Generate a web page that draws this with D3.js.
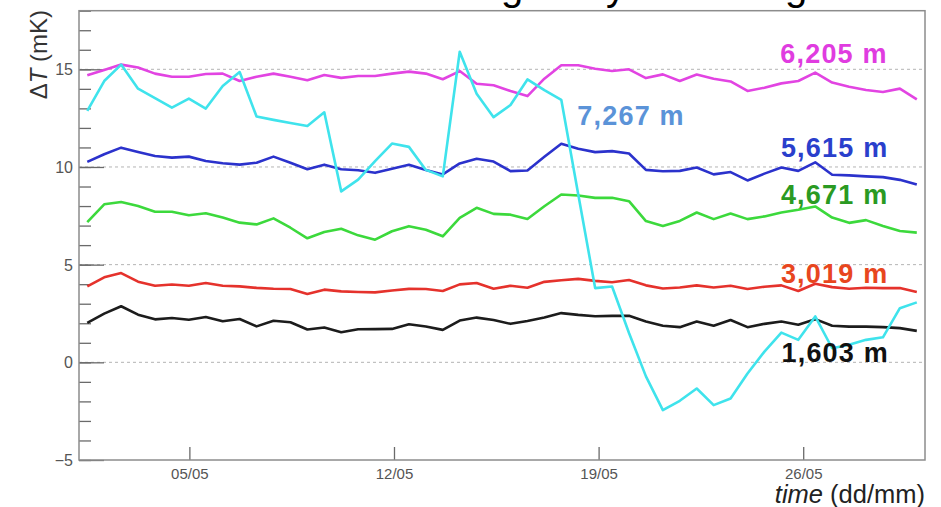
<!DOCTYPE html>
<html>
<head>
<meta charset="utf-8">
<script src="https://cdn.jsdelivr.net/npm/d3@7"></script>
<style>
  body { margin: 0; background: #fff; }
  svg { display: block; font-family: "Liberation Sans", Arial, Helvetica, sans-serif; }
</style>
</head>
<body>
<svg id="chart" width="941" height="507"></svg>
<script>
// ΔT per sensor depth, one reading every ~13.9 h from 1 May to 29 May
const depth1603 = [2.02, 2.49, 2.87, 2.44, 2.20, 2.27, 2.18, 2.32, 2.10, 2.22,
                   1.84, 2.13, 2.05, 1.68, 1.78, 1.54, 1.69, 1.70, 1.71, 1.95,
                   1.83, 1.66, 2.14, 2.29, 2.17, 1.97, 2.12, 2.29, 2.52, 2.43,
                   2.36, 2.38, 2.38, 2.09, 1.87, 1.80, 2.09, 1.87, 2.17, 1.80,
                   1.97, 2.09, 1.92, 2.21, 1.87, 1.83, 1.83, 1.80, 1.75, 1.61];
const depth3019 = [3.89, 4.35, 4.57, 4.13, 3.92, 3.98, 3.92, 4.06, 3.92, 3.89,
                   3.81, 3.77, 3.75, 3.50, 3.72, 3.63, 3.60, 3.58, 3.68, 3.76,
                   3.75, 3.65, 3.99, 4.06, 3.77, 3.92, 3.82, 4.12, 4.20, 4.27,
                   4.17, 4.10, 4.21, 3.94, 3.78, 3.83, 3.94, 3.83, 3.92, 3.75,
                   3.87, 3.94, 3.65, 4.02, 3.85, 3.77, 3.82, 3.80, 3.80, 3.60];
const depth4671 = [7.18, 8.09, 8.21, 8.00, 7.71, 7.71, 7.53, 7.63, 7.41, 7.15,
                   7.06, 7.37, 6.89, 6.35, 6.67, 6.84, 6.50, 6.28, 6.71, 6.97,
                   6.79, 6.45, 7.39, 7.91, 7.60, 7.56, 7.34, 7.99, 8.59, 8.54,
                   8.42, 8.42, 8.25, 7.23, 6.98, 7.24, 7.67, 7.33, 7.62, 7.33,
                   7.47, 7.67, 7.81, 7.98, 7.41, 7.14, 7.28, 6.98, 6.72, 6.64];
const depth5615 = [10.26, 10.65, 10.99, 10.77, 10.56, 10.48, 10.53, 10.31, 10.19, 10.12,
                   10.22, 10.53, 10.22, 9.88, 10.12, 9.88, 9.83, 9.70, 9.91, 10.11,
                   9.84, 9.62, 10.18, 10.42, 10.28, 9.79, 9.82, 10.52, 11.19, 10.93,
                   10.76, 10.81, 10.69, 9.85, 9.78, 9.80, 9.97, 9.62, 9.74, 9.31,
                   9.66, 9.97, 9.80, 10.24, 9.60, 9.57, 9.52, 9.48, 9.34, 9.10];
const depth6205 = [14.69, 14.97, 15.24, 15.09, 14.78, 14.62, 14.62, 14.76, 14.78, 14.40,
                   14.62, 14.78, 14.62, 14.44, 14.71, 14.56, 14.66, 14.66, 14.78, 14.88,
                   14.78, 14.49, 14.91, 14.26, 14.18, 13.89, 13.63, 14.52, 15.21, 15.21,
                   15.03, 14.91, 15.00, 14.55, 14.74, 14.40, 14.73, 14.52, 14.38, 13.89,
                   14.06, 14.28, 14.40, 14.83, 14.32, 14.11, 13.94, 13.84, 14.01, 13.46];
const depth7267 = [12.87, 14.40, 15.24, 14.01, 13.53, 13.04, 13.50, 12.99, 14.15, 14.86,
                   12.58, 12.41, 12.25, 12.10, 12.80, 8.75, 9.35, 10.30, 11.20, 11.03,
                   9.85, 9.52, 15.90, 13.75, 12.55, 13.17, 14.48, 13.93, 13.44, 8.60,
                   3.80, 3.88, 1.50, -0.72, -2.45, -1.97, -1.34, -2.19, -1.85, -0.57,
                   0.55, 1.52, 1.15, 2.35, 0.72, 0.90, 1.15, 1.28, 2.77, 3.07];

const seriesLabels = ["1,603 m", "3,019 m", "4,671 m", "5,615 m", "6,205 m", "7,267 m"];
const seriesValues = [depth1603, depth3019, depth4671, depth5615, depth6205, depth7267];
const lineColors   = ["#1c1c1c", "#e5322c", "#3cd93c", "#2b32cc", "#e244e2", "#3fe3ec"];
const labelColors  = ["#111111", "#e8461e", "#2a9a22", "#2a3fcc", "#e03ce0", "#5b93d8"];
// where each depth label sits, in (time, ΔT) coordinates
const labelTimes   = ["2015-05-25T06:10Z", "2015-05-25T05:40Z", "2015-05-25T05:40Z",
                      "2015-05-25T05:40Z", "2015-05-25T05:10Z", "2015-05-18T06:30Z"];
const labelValues  = [0.03, 4.05, 8.11, 10.53, 15.32, 12.16];

const sampleStart = Date.parse("2015-05-01T12:10:00Z");
const sampleStepHours = 13.9;

const xTickTimes = ["2015-05-05T00:00Z", "2015-05-12T00:00Z", "2015-05-19T00:00Z", "2015-05-26T00:00Z"];
const yMajorTicks = [-5, 0, 5, 10, 15];
const yMinorTicks = d3.range(-5, 19, 1);

const svg = d3.select("#chart");
const plotLeft = 79, plotRight = 925, plotTop = 10.7, plotBottom = 460;

const x = d3.scaleUtc()
  .domain([new Date("2015-05-01T05:22:00Z"), new Date("2015-05-30T04:00:00Z")])
  .range([plotLeft, plotRight]);
const y = d3.scaleLinear().domain([-5, 18]).range([plotBottom, plotTop]);

const sampleTimes = depth1603.map((_, i) => new Date(sampleStart + i * sampleStepHours * 3600e3));

// slide title above the plot; only its descenders reach into the page
const title = svg.append("text")
  .attr("x", 0).attr("y", 0)
  .attr("font-size", 40)
  .attr("fill", "#000");
const titleParts = ["Thermal drift during ", "daily ", "warming"];
const titleSpans = titleParts.map(t => title.append("tspan").text(t));
{
  const node = title.node();
  const full = titleParts.join("");
  const g1 = full.indexOf("g");
  title.attr("x", 501 - node.getStartPositionOfChar(g1).x);
  const yIdx = full.indexOf("y");
  titleSpans[1].attr("dx", 606 - node.getStartPositionOfChar(yIdx).x);
  const g2 = full.lastIndexOf("g");
  titleSpans[2].attr("dx", 785 - node.getStartPositionOfChar(g2).x);
}

// dashed grid at the labelled values
svg.append("g").selectAll("line")
  .data(yMajorTicks.filter(v => v > -5))
  .join("line")
  .attr("x1", plotLeft).attr("x2", plotRight)
  .attr("y1", d => y(d)).attr("y2", d => y(d))
  .attr("stroke", "#b4b4b4").attr("stroke-width", 1)
  .attr("stroke-dasharray", "3,3");

// y axis: major + minor ticks pointing into the frame
const yAxisMinor = d3.axisRight(y).tickValues(yMinorTicks).tickSize(12).tickFormat("");
const yAxisMajor = d3.axisRight(y).tickValues(yMajorTicks).tickSize(25)
  .tickFormat(d => d < 0 ? "\u2212" + Math.abs(d) : d);

const gyMinor = svg.append("g").attr("transform", `translate(${plotLeft},0)`).call(yAxisMinor);
gyMinor.select(".domain").remove();
gyMinor.selectAll("line").attr("stroke", "#6a6a6a").attr("stroke-width", 1.3);

const gyMajor = svg.append("g").attr("transform", `translate(${plotLeft},0)`).call(yAxisMajor);
gyMajor.select(".domain").remove();
gyMajor.selectAll("line").attr("stroke", "#6a6a6a").attr("stroke-width", 1.3);
gyMajor.selectAll("text")
  .attr("x", -6).attr("text-anchor", "end")
  .attr("dy", "0.35em")
  .attr("font-size", 16).attr("fill", "#555")
  .attr("font-family", "'Liberation Sans', Arial, sans-serif");

// x axis: major ticks pointing up
const xAxis = d3.axisTop(x).tickValues(xTickTimes.map(s => new Date(s)))
  .tickSize(13).tickFormat(d3.utcFormat("%d/%m"));
const gxAxis = svg.append("g").attr("transform", `translate(0,${plotBottom})`).call(xAxis);
gxAxis.select(".domain").remove();
gxAxis.selectAll("line").attr("stroke", "#6a6a6a").attr("stroke-width", 1.3);
gxAxis.selectAll("text")
  .attr("y", 19).attr("dy", 0)
  .attr("font-size", 15).attr("fill", "#555")
  .attr("font-family", "'Liberation Sans', Arial, sans-serif");

// frame
svg.append("rect")
  .attr("x", plotLeft).attr("y", plotTop)
  .attr("width", plotRight - plotLeft).attr("height", plotBottom - plotTop)
  .attr("fill", "none").attr("stroke", "#8c8c8c").attr("stroke-width", 1.5);

// one polyline per depth
const line = d3.line()
  .x((d, i) => x(sampleTimes[i]))
  .y(d => y(d));

svg.append("g").selectAll("path")
  .data(seriesValues)
  .join("path")
  .attr("d", d => line(d))
  .attr("fill", "none")
  .attr("stroke", (d, i) => lineColors[i])
  .attr("stroke-width", 2.6)
  .attr("stroke-linejoin", "round");

// depth labels
svg.append("g").selectAll("text")
  .data(seriesLabels)
  .join("text")
  .attr("x", (d, i) => x(new Date(labelTimes[i])))
  .attr("y", (d, i) => y(labelValues[i]))
  .attr("font-size", 27)
  .attr("font-weight", "bold")
  .attr("letter-spacing", 1.2)
  .attr("fill", (d, i) => labelColors[i])
  .text(d => d);

// axis titles
const yTitle = svg.append("text")
  .attr("transform", "translate(47,10) rotate(-90)")
  .attr("text-anchor", "end")
  .attr("font-size", 24)
  .attr("fill", "#333");
yTitle.append("tspan").text("\u0394");
yTitle.append("tspan").attr("font-style", "italic").text("T");
yTitle.append("tspan").text(" (mK)");

const xTitle = svg.append("text")
  .attr("x", plotRight).attr("y", 503)
  .attr("text-anchor", "end")
  .attr("font-size", 25.5)
  .attr("fill", "#222");
xTitle.append("tspan").attr("font-style", "italic").text("time");
xTitle.append("tspan").text(" (dd/mm)");
</script>
</body>
</html>
